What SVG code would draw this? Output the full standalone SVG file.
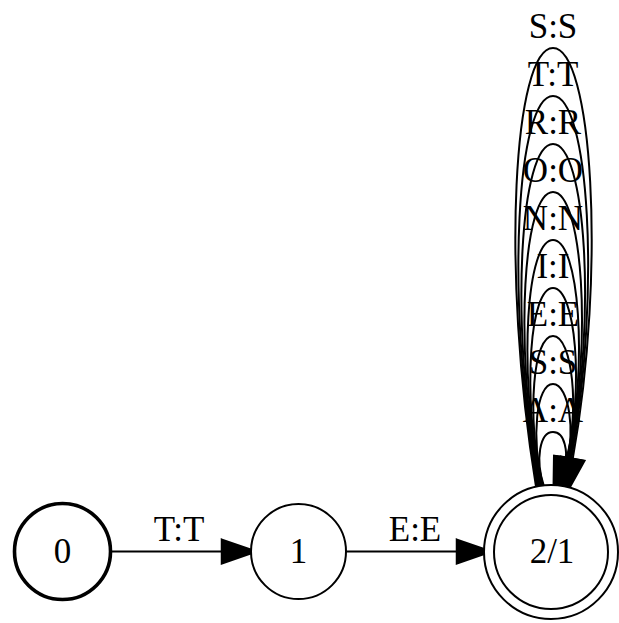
<svg xmlns="http://www.w3.org/2000/svg" width="619" height="623" viewBox="0 0 619 623">
<style>
text{font-family:"Liberation Serif","Times New Roman",serif;font-size:35px;fill:#000;text-anchor:middle}
.node{fill:#fff;stroke:#000;stroke-width:2}
.bold{stroke-width:3.6}
.edge{fill:none;stroke:#000;stroke-width:2;marker-end:url(#arr)}
</style>
<defs>
<marker id="arr" markerUnits="userSpaceOnUse" markerWidth="40" markerHeight="30" refX="0" refY="0" viewBox="-2 -12 32 24" orient="auto" overflow="visible">
<path d="M0,-9.3 L27,0 L0,9.3 Z" fill="#000" stroke="#000" stroke-width="2"/>
</marker>
</defs>
<rect width="619" height="623" fill="#fff"/>
<g id="connectors">
<path class="edge" d="M112,551.5 L222,551.5"/>
<text x="179" y="541">T:T</text>
<path class="edge" d="M346,551.5 L457,551.5"/>
<text x="415" y="541">E:E</text>
<path class="edge" d="M544,486.5 C535,459.5 539.8,432 553,432 C566.2,432 567,455 565.16,460.1"/>
<text x="553" y="422">A:A</text>
<path class="edge" d="M543,486.5 C530.65,435.5 536.6,384 553,384 C569.4,384 575.35,435.5 566.58,460.07"/>
<text x="553" y="374">S:S</text>
<path class="edge" d="M542,486.5 C526.3,411.5 533.42,336 553,336 C572.58,336 579.7,411.5 566.27,459.5"/>
<text x="553" y="326">E:E</text>
<path class="edge" d="M541,486.5 C521.95,387.5 530.23,288 553,288 C575.77,288 584.05,387.5 566.81,459.25"/>
<text x="553" y="278">I:I</text>
<path class="edge" d="M540,486.5 C517.6,363.5 527.04,240 553,240 C578.96,240 588.4,363.5 567.71,459.11"/>
<text x="553" y="230">N:N</text>
<path class="edge" d="M539,486.5 C513.25,339.5 523.85,192 553,192 C582.15,192 592.75,339.5 568.8,459.03"/>
<text x="553" y="182">O:O</text>
<path class="edge" d="M538,486.5 C508.9,315.5 520.66,144 553,144 C585.34,144 597.1,315.5 570.01,458.97"/>
<text x="553" y="134">R:R</text>
<path class="edge" d="M537,486.5 C504.55,291.5 517.47,96 553,96 C588.53,96 601.45,291.5 571.29,458.93"/>
<text x="553" y="86">T:T</text>
<path class="edge" d="M536,486.5 C500.2,267.5 514.28,48 553,48 C591.72,48 606.8,267.5 572.73,458.92"/>
<text x="553" y="38">S:S</text>
</g>
<g id="node0">
<circle class="node bold" cx="62.5" cy="551.5" r="48"/>
<text x="62.5" y="563">0</text>
</g>
<g id="node1">
<circle class="node" cx="298.5" cy="551.5" r="47.5"/>
<text x="298.5" y="563">1</text>
</g>
<g id="node2">
<circle class="node" cx="551" cy="552" r="67"/>
<circle class="node" fill="none" cx="551" cy="552" r="57"/>
<text x="552" y="563">2/1</text>
</g>
</svg>
